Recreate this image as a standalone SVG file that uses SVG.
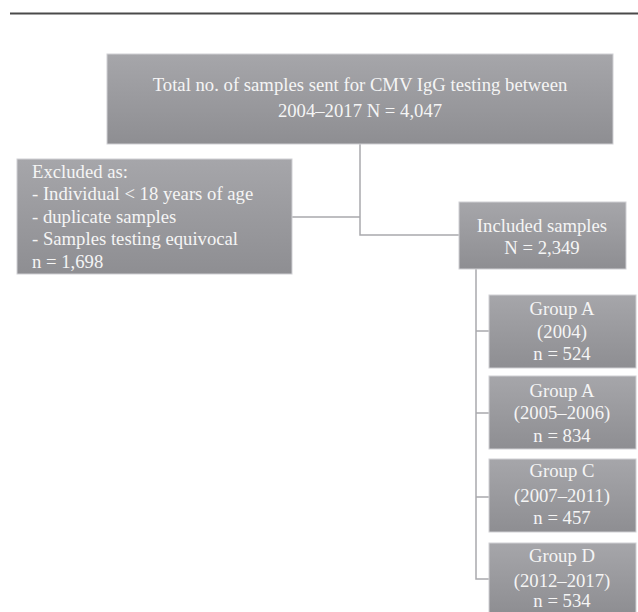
<svg xmlns="http://www.w3.org/2000/svg" width="638" height="612" viewBox="0 0 638 612">
<defs>
<linearGradient id="g" x1="0" y1="0" x2="0" y2="1">
<stop offset="0" stop-color="#a6a6aa"/>
<stop offset="1" stop-color="#8e8e92"/>
</linearGradient>
</defs>
<style>
.box{fill:url(#g);stroke:#cfcfd3;stroke-width:1}
.t{font-family:"Liberation Serif",serif;font-size:18.7px;fill:#f5f5f5}
.c{text-anchor:middle}
.ln{fill:none;stroke:#a9a9ad;stroke-width:1.5}
</style>
<rect width="638" height="612" fill="#ffffff"/>
<line x1="10" y1="13.5" x2="638" y2="13.5" stroke="#4a4a4a" stroke-width="2"/>
<g id="connectors">
<polyline class="ln" points="360,144 360,235 459,235"/>
<line class="ln" x1="292" y1="217" x2="360" y2="217"/>
<polyline class="ln" points="476,269 476,579 489,579"/>
<line class="ln" x1="476" y1="331" x2="489" y2="331"/>
<line class="ln" x1="476" y1="413" x2="489" y2="413"/>
<line class="ln" x1="476" y1="497" x2="489" y2="497"/>
</g>
<g id="total">
<rect class="box" x="107" y="54" width="506" height="90"/>
<text class="t c" x="360" y="91">Total no. of samples sent for CMV IgG testing between</text>
<text class="t c" x="360" y="117">2004–2017 N = 4,047</text>
</g>
<g id="excluded">
<rect class="box" x="17" y="159" width="275" height="115"/>
<text class="t" x="32" y="178">Excluded as:</text>
<text class="t" x="32" y="200">- Individual &lt; 18 years of age</text>
<text class="t" x="32" y="223">- duplicate samples</text>
<text class="t" x="32" y="245">- Samples testing equivocal</text>
<text class="t" x="32" y="268">n = 1,698</text>
</g>
<g id="included">
<rect class="box" x="459" y="202" width="167" height="67"/>
<text class="t c" x="542" y="232">Included samples</text>
<text class="t c" x="542" y="254">N = 2,349</text>
</g>
<g id="groupA1">
<rect class="box" x="489" y="295" width="147" height="73"/>
<text class="t c" x="562" y="315">Group A</text>
<text class="t c" x="562" y="338">(2004)</text>
<text class="t c" x="562" y="360">n = 524</text>
</g>
<g id="groupA2">
<rect class="box" x="489" y="376" width="147" height="73"/>
<text class="t c" x="562" y="397">Group A</text>
<text class="t c" x="562" y="419">(2005–2006)</text>
<text class="t c" x="562" y="442">n = 834</text>
</g>
<g id="groupC">
<rect class="box" x="489" y="459" width="147" height="73"/>
<text class="t c" x="562" y="477">Group C</text>
<text class="t c" x="562" y="502">(2007–2011)</text>
<text class="t c" x="562" y="524">n = 457</text>
</g>
<g id="groupD">
<rect class="box" x="489" y="543" width="147" height="70"/>
<text class="t c" x="562" y="562">Group D</text>
<text class="t c" x="562" y="587">(2012–2017)</text>
<text class="t c" x="562" y="607">n = 534</text>
</g>
</svg>
